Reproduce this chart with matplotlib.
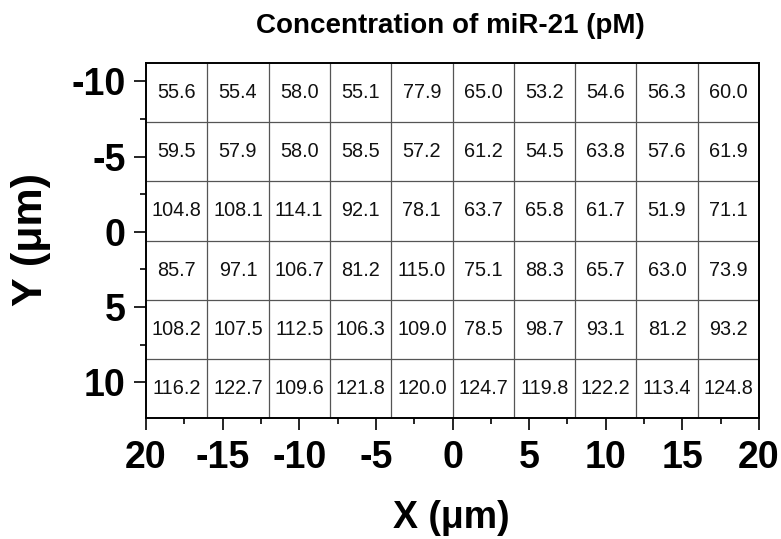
import matplotlib
matplotlib.use('Agg')
import matplotlib.pyplot as plt
import numpy as np

plt.rcParams['font.family'] = ['Liberation Sans', 'DejaVu Sans']

# Data (rows from top y=-10 to bottom y=10, columns from x=-20 to x=20)
row_1 = [55.6, 55.4, 58.0, 55.1, 77.9, 65.0, 53.2, 54.6, 56.3, 60.0]
row_2 = [59.5, 57.9, 58.0, 58.5, 57.2, 61.2, 54.5, 63.8, 57.6, 61.9]
row_3 = [104.8, 108.1, 114.1, 92.1, 78.1, 63.7, 65.8, 61.7, 51.9, 71.1]
row_4 = [85.7, 97.1, 106.7, 81.2, 115.0, 75.1, 88.3, 65.7, 63.0, 73.9]
row_5 = [108.2, 107.5, 112.5, 106.3, 109.0, 78.5, 98.7, 93.1, 81.2, 93.2]
row_6 = [116.2, 122.7, 109.6, 121.8, 120.0, 124.7, 119.8, 122.2, 113.4, 124.8]
rows = [row_1, row_2, row_3, row_4, row_5, row_6]

x_tick_values = [-20, -15, -10, -5, 0, 5, 10, 15, 20]
x_tick_labels = ['20', '-15', '-10', '-5', '0', '5', '10', '15', '20']
y_tick_values = [-10, -5, 0, 5, 10]
y_tick_labels = ['-10', '-5', '0', '5', '10']

title = 'Concentration of miR-21 (pM)'
x_label = 'X (μm)'
y_label = 'Y (μm)'

# Layout
W, H = 781, 539
fig = plt.figure(figsize=(W / 100, H / 100), dpi=100)
left, right, top, bottom = 146, 759, 62.7, 418.3
ax = fig.add_axes([left / W, 1 - bottom / H, (right - left) / W, (bottom - top) / H])

x_min, x_max = -20, 20
y_top, y_bottom = -11.25, 12.4
ax.set_xlim(x_min, x_max)
ax.set_ylim(y_bottom, y_top)

n_rows = len(rows)
n_cols = len(row_1)
x_edges = np.linspace(x_min, x_max, n_cols + 1)
y_edges = np.linspace(y_top, y_bottom, n_rows + 1)

ax.vlines(x_edges[1:-1], y_top, y_bottom, colors='#555555', linewidth=0.9, zorder=1)
ax.hlines(y_edges[1:-1], x_min, x_max, colors='#555555', linewidth=0.9, zorder=1)

for i, r in enumerate(rows):
    yc = (y_edges[i] + y_edges[i + 1]) / 2
    for j, v in enumerate(r):
        xc = (x_edges[j] + x_edges[j + 1]) / 2
        ax.text(xc, yc, f'{v:.1f}', ha='center', va='center', fontsize=14.3,
                color='#111111', zorder=2)

ax.set_xticks(x_tick_values)
ax.set_xticklabels(x_tick_labels, fontsize=27, fontweight='bold')
ax.set_yticks(y_tick_values)
ax.set_yticklabels(y_tick_labels, fontsize=27, fontweight='bold')
ax.set_xticks([-17.5, -12.5, -7.5, -2.5, 2.5, 7.5, 12.5, 17.5], minor=True)
ax.set_yticks([-7.5, -2.5, 2.5, 7.5], minor=True)
ax.tick_params(which='major', direction='out', length=8.5, width=1.2, pad=6)
ax.tick_params(which='minor', direction='out', length=4, width=1.2)
ax.tick_params(axis='x', which='major', pad=7)

for s in ax.spines.values():
    s.set_linewidth(1.4)
    s.set_color('black')

fig.text(450.5 / W, 1 - 26 / H, title, ha='center', va='center', fontsize=20, fontweight='bold')
fig.text(451 / W, 1 - 518 / H, x_label, ha='center', va='center', fontsize=27, fontweight='bold')
fig.text(31 / W, 1 - 239 / H, y_label, ha='center', va='center', fontsize=31, fontweight='bold', rotation=90)

fig.savefig('out.png', dpi=100)
